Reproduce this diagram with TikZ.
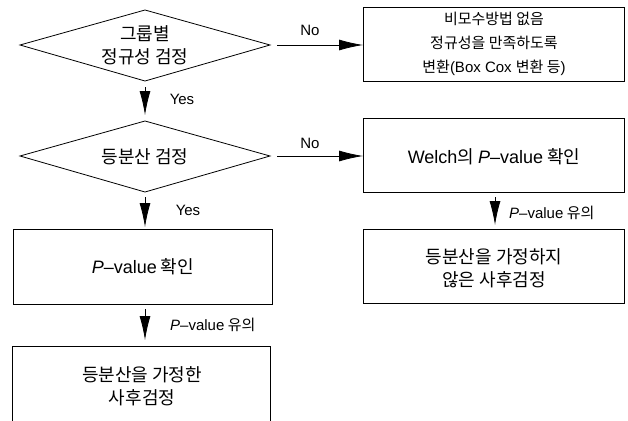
\documentclass[tikz,border=0pt]{standalone}
\usepackage{fontspec}
\setmainfont{Noto Sans CJK KR}
\newfontfamily\en{Liberation Sans}
\usetikzlibrary{arrows.meta}
\newcommand{\Pv}{{\en\itshape P}{\en–value}}
\begin{document}
\begin{tikzpicture}[x=1pt,y=-1pt,
  lbl/.style={font=\fontsize{15}{18}\selectfont\en, inner sep=0pt},
  kr/.style={font=\fontsize{18}{23}\selectfont, align=center, inner sep=0pt},
  box/.style={draw=black, line width=0.8pt},
  arr/.style={line width=0.8pt, -{Latex[length=24pt,width=11pt]}},
]
\useasboundingbox (0,0) rectangle (628,420);
% decision diamonds
\draw[box] (20,45) -- (145,10) -- (270,45) -- (145,81) -- cycle;
\coordinate (d1s) at (145,81); \coordinate (d1e) at (270,45);
\node[kr] (d1) at (145,45) {그룹별\\정규성 검정};
\draw[box] (20,156) -- (145,121) -- (270,156) -- (145,192) -- cycle;
\coordinate (d2n) at (145,121); \coordinate (d2s) at (145,192); \coordinate (d2e) at (270,156);
\node[kr] (d2) at (145,157) {등분산 검정};
% boxes
\draw[box] (363,7) rectangle (624,81);
\node[kr, font=\fontsize{15}{24}\selectfont] (b1) at (494,44) {비모수방법 없음\\정규성을 만족하도록\\변환{\en (Box Cox }변환 등{\en )}};
\coordinate (b1w) at (363,45);
\draw[box] (363,118) rectangle (624,192);
\node[kr] (b2) at (494,157) {{\en Welch}의 \Pv\ 확인};
\coordinate (b2w) at (363,156); \coordinate (b2s) at (495,192);
\draw[box] (363,229) rectangle (624,303);
\node[kr] (b3) at (494,268) {등분산을 가정하지\\않은 사후검정};
\coordinate (b3n) at (495,229);
\draw[box] (13,229) rectangle (272,304);
\node[kr] (b4) at (143,267) {\Pv\ 확인};
\coordinate (b4n) at (145,229); \coordinate (b4s) at (145,304);
\draw[box] (12,346) rectangle (270,424);
\node[kr] (b5) at (142,386) {등분산을 가정한\\사후검정};
\coordinate (b5n) at (145,346);
% arrows
\draw[arr, shorten <=7pt] (d1e) -- (b1w);
\draw[arr, shorten <=7pt] (d2e) -- (b2w);
\draw[arr, shorten <=6pt, shorten >=6pt] (d1s) -- (d2n);
\draw[arr, shorten <=5pt, shorten >=2pt] (d2s) -- (b4n);
\draw[arr, shorten <=5pt, shorten >=4pt] (b2s) -- (b3n);
\draw[arr, shorten <=5pt, shorten >=6pt] (b4s) -- (b5n);
% labels
\node[lbl] (no1) at (310,30) {No};
\node[lbl] (no2) at (310,143) {No};
\node[lbl] (yes1) at (182,99) {Yes};
\node[lbl] (yes2) at (188,210) {Yes};
\node[kr, font=\fontsize{15}{18}\selectfont, anchor=west] (pv1) at (170,325) {\Pv\ 유의};
\node[kr, font=\fontsize{15}{18}\selectfont, anchor=west] (pv2) at (509,213) {\Pv\ 유의};
\end{tikzpicture}
\end{document}
